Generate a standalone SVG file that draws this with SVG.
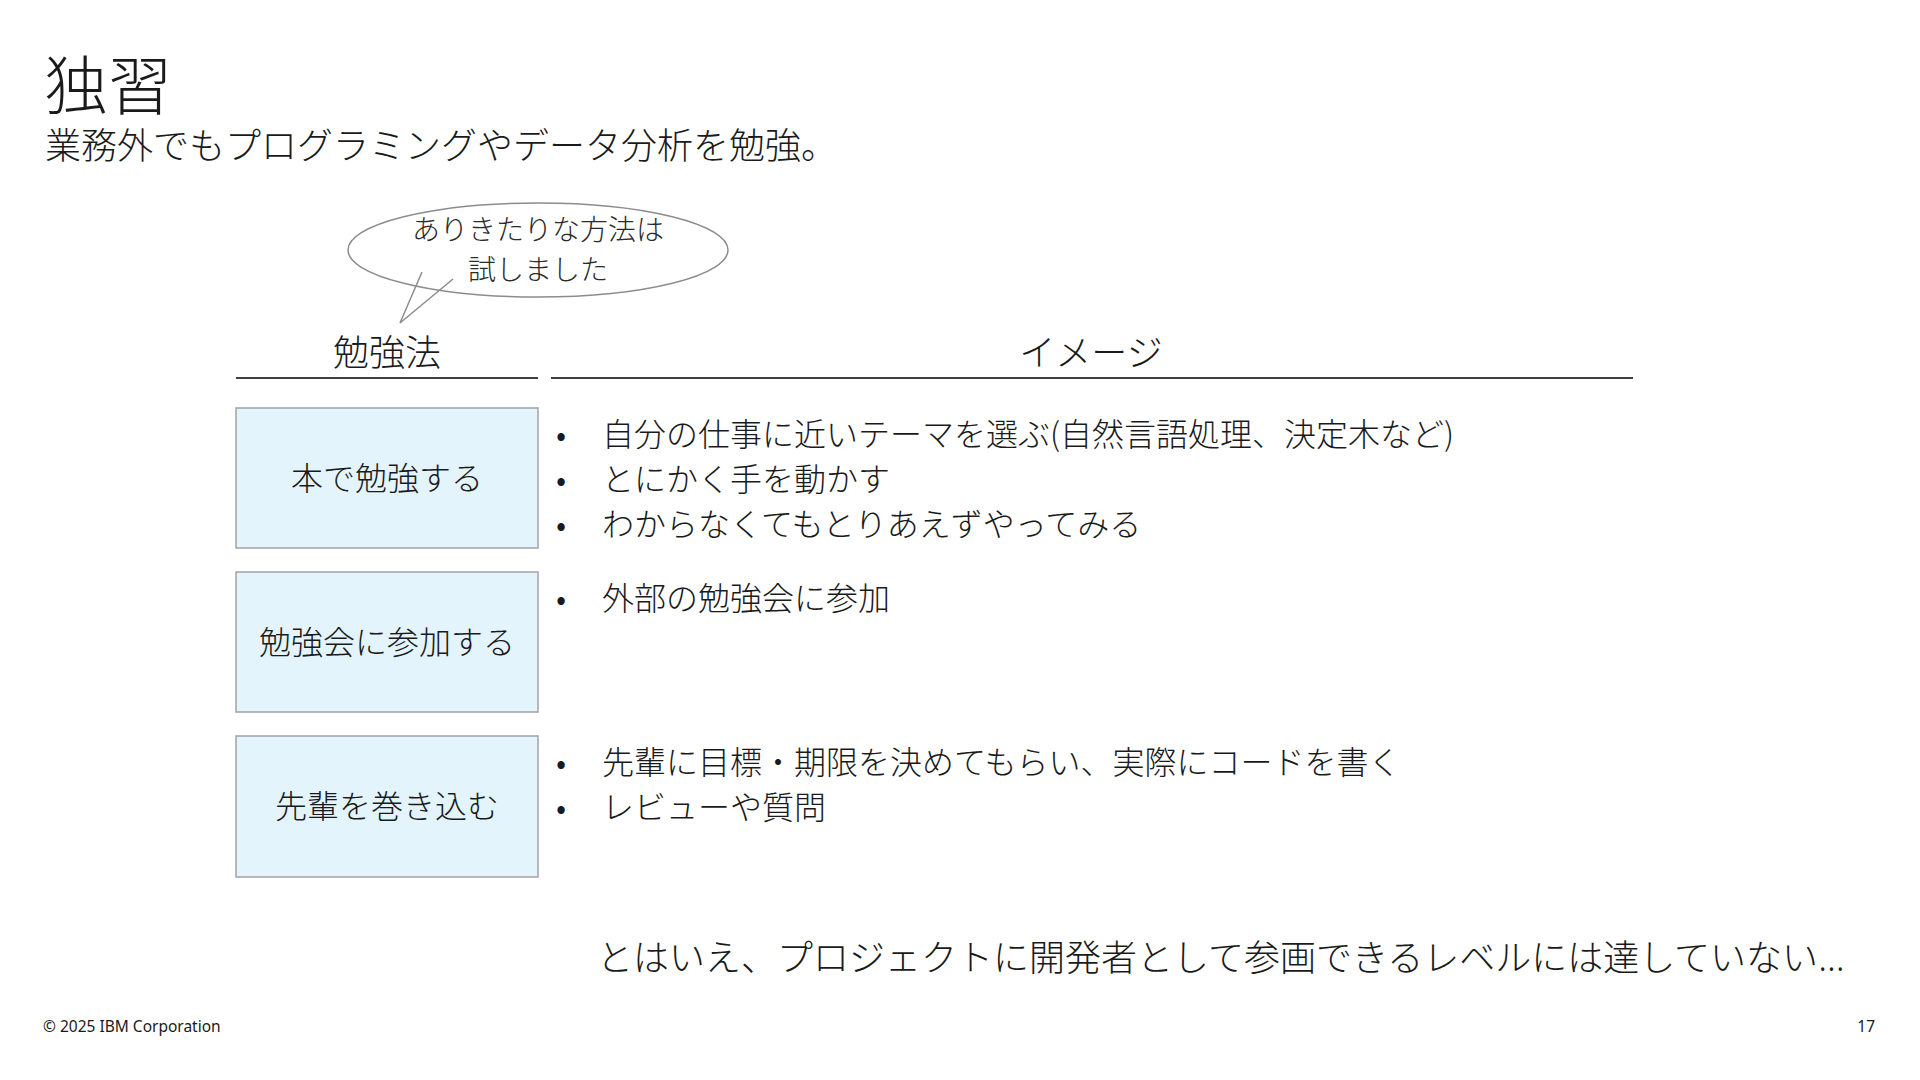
<svg xmlns="http://www.w3.org/2000/svg" width="1920" height="1080" viewBox="0 0 1920 1080">
<style>
text{font-family:"Noto Sans CJK JP","Noto Sans CJK SC",sans-serif;fill:#1a1a1a;font-weight:300}
.title{font-size:64px}
.sub{font-size:36px}
.hdr{font-size:36px;text-anchor:middle}
.box{fill:#e3f4fc;stroke:#a3a3a3;stroke-width:1.5}
.btxt{font-size:32px;text-anchor:middle}
.bul{font-size:32px}
.note{font-size:28px;text-anchor:middle;fill:#2a2a2a}
.foot{font-family:"Noto Sans","Liberation Sans",sans-serif;font-size:15.5px;font-weight:400}
.rule{stroke:#404040;stroke-width:2}
.lat{font-family:"Noto Sans","Liberation Sans",sans-serif}
</style>
<rect width="1920" height="1080" fill="#ffffff"/>
<text class="title" x="44" y="109">独習</text>
<text class="sub" x="45" y="159">業務外でもプログラミングやデータ分析を勉強。</text>

<g id="callout">
<ellipse cx="538" cy="250" rx="190" ry="47" fill="#ffffff" stroke="#8c8c8c" stroke-width="1.5"/>
<polyline points="422,272 400,323 453,279" fill="none" stroke="#8c8c8c" stroke-width="1.5"/>
<text class="note" x="538" y="240">ありきたりな方法は</text>
<text class="note" x="538" y="280">試しました</text>
</g>

<g id="headers">
<text class="hdr" x="387" y="366">勉強法</text>
<text class="hdr" x="1091" y="366">イメージ</text>
<line class="rule" x1="236" y1="378" x2="538" y2="378"/>
<line class="rule" x1="551" y1="378" x2="1633" y2="378"/>
</g>

<g id="node-book">
<rect class="box" x="236" y="408" width="302" height="140"/>
<text class="btxt" x="387" y="490">本で勉強する</text>
</g>
<g id="node-meetup">
<rect class="box" x="236" y="572" width="302" height="140"/>
<text class="btxt" x="387" y="654">勉強会に参加する</text>
</g>
<g id="node-senior">
<rect class="box" x="236" y="736" width="302" height="141"/>
<text class="btxt" x="387" y="818">先輩を巻き込む</text>
</g>

<g id="bullets-book">
<text class="bul" x="556" y="446">•</text><text class="bul" x="602" y="446">自分の仕事に近いテーマを選ぶ(自然言語処理、決定木など)</text>
<text class="bul" x="556" y="491">•</text><text class="bul" x="602" y="491">とにかく手を動かす</text>
<text class="bul" x="556" y="536">•</text><text class="bul" x="602" y="536">わからなくてもとりあえずやってみる</text>
</g>
<g id="bullets-meetup">
<text class="bul" x="556" y="610">•</text><text class="bul" x="602" y="610">外部の勉強会に参加</text>
</g>
<g id="bullets-senior">
<text class="bul" x="556" y="774">•</text><text class="bul" x="602" y="774">先輩に目標・期限を決めてもらい、実際にコードを書く</text>
<text class="bul" x="556" y="819">•</text><text class="bul" x="602" y="819">レビューや質問</text>
</g>

<text class="sub" x="597" y="971">とはいえ、プロジェクトに開発者として参画できるレベルには達していない<tspan class="lat">…</tspan></text>

<text class="foot" x="43" y="1032">© 2025 IBM Corporation</text>
<text class="foot" x="1875" y="1032" text-anchor="end">17</text>
</svg>
